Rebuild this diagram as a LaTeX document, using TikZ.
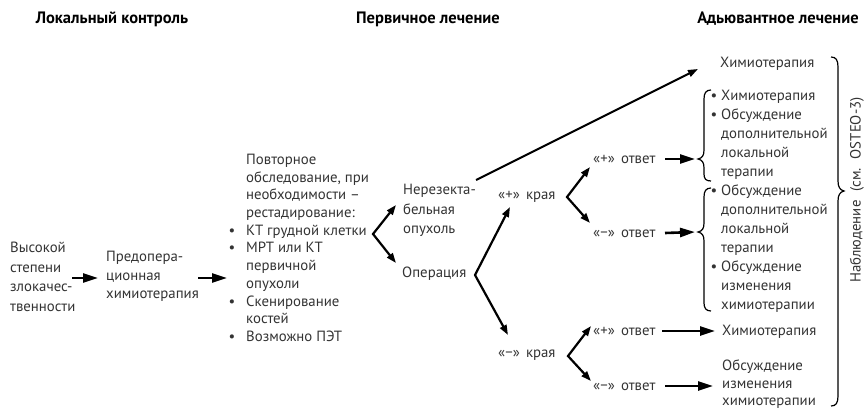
\documentclass[tikz,border=0pt]{standalone}
\usepackage{fontspec}
\setmainfont{PT Sans}
\usetikzlibrary{arrows.meta}
\newcommand\mybul{\llap{•\hspace{11pt}}}
\newcommand\mybulr{\llap{•\hspace{4pt}}}
\newcommand\gap{\hspace{0.42em}}
\begin{document}
\begin{tikzpicture}[x=1pt,y=-1pt,
  hdr/.style={inner sep=0pt, font=\fontsize{16.5}{19}\selectfont\bfseries, text=black},
  txt/.style={inner sep=0pt, text=black!80, align=left},
  lbl/.style={inner sep=0pt, text=black!80, anchor=base west, font=\fontsize{14.8}{18}\selectfont},
  harrow/.style={line width=2.6pt, -{Triangle[length=15pt,width=9pt]}},
  farrow/.style={line width=2.2pt, line join=miter, {Triangle[length=10pt,width=7pt]}-{Triangle[length=10pt,width=7pt]}},
  sarrow/.style={line width=2.2pt, -{Triangle[length=10pt,width=7pt]}},
  brace/.style={line width=1.2pt}
]
\useasboundingbox (0,0) rectangle (867,408);
% headers
\node[hdr] (h1) at (112,19) {Локальный контроль};
\node[hdr] (h2) at (428,19) {Первичное лечение};
\node[hdr] (h3) at (778,19) {Адьювантное лечение};
% left column
\node[txt, anchor=north west, font=\fontsize{14.8}{19.5}\selectfont] (hg) at (10,238.7)
  {\strut Высокой\\степени\\злокачес-\\твенности};
\node[txt, anchor=north west, font=\fontsize{14.8}{18.7}\selectfont] (pc) at (106,248.2)
  {\strut Предопера-\\ционная\\химиотерапия};
\node[txt, anchor=north west, font=\fontsize{14.8}{17.7}\selectfont] (rs) at (246,151.9)
  {\strut Повторное\\обследование, при\\необходимости –\\рестадирование:\\\mybul КТ грудной клетки\\\mybul МРТ или КТ\\первичной\\опухоли\\\mybul Скенирование\\костей\\\mybul Возможно ПЭТ};
% primary
\node[txt, anchor=north west, font=\fontsize{14.8}{19.5}\selectfont] (nr) at (403,180.7)
  {\strut Нерезекта-\\бельная\\опухоль};
\node[lbl] (op) at (402,277.2) {Операция};
\node[lbl] (mp) at (498,199.2) {«+»\gap края};
\node[lbl] (mm) at (498,357.2) {«−»\gap края};
\node[lbl] (o1) at (593,163.2) {«+»\gap ответ};
\node[lbl] (o2) at (593,237.2) {«−»\gap ответ};
\node[lbl] (o3) at (593,335.2) {«+»\gap ответ};
\node[lbl] (o4) at (593,390.2) {«−»\gap ответ};
% adjuvant
\node[lbl] (c0) at (720,67.2) {Химиотерапия};
\node[txt, anchor=north west, font=\fontsize{14.8}{19}\selectfont] (l1) at (721,87)
  {\strut\mybulr Химиотерапия\\\mybulr Обсуждение\\дополнительной\\локальной\\терапии};
\node[txt, anchor=north west, font=\fontsize{14.8}{19}\selectfont] (l2) at (721,182)
  {\strut\mybulr Обсуждение\\дополнительной\\локальной\\терапии\\\mybulr Обсуждение\\изменения\\химиотерапии};
\node[lbl] (c3) at (722,335.2) {Химиотерапия};
\node[txt, anchor=north west, font=\fontsize{14.8}{17.5}\selectfont] (c4) at (722,358.2)
  {\strut Обсуждение\\изменения\\химиотерапии};
\node[inner sep=0pt, text=black!80, rotate=90, font=\fontsize{14.8}{18}\selectfont] (obs) at (857,190)
  {Наблюдение\hspace{0.6em}(см.\hspace{0.6em}OSTEO-3)};
% connector end points
\coordinate (a1s) at (72,278);  \coordinate (a1e) at (98,278);
\coordinate (a2s) at (198,278); \coordinate (a2e) at (227,278);
\coordinate (f1u) at (396,205); \coordinate (f1v) at (373,234); \coordinate (f1d) at (396,263);
\coordinate (f3u) at (510,207); \coordinate (f3v) at (475,275); \coordinate (f3d) at (508,335);
\coordinate (f2u) at (590,167); \coordinate (f2v) at (567,197); \coordinate (f2d) at (590,223);
\coordinate (f4u) at (591,326); \coordinate (f4v) at (568,356); \coordinate (f4d) at (591,381);
\coordinate (lgs) at (476,180); \coordinate (lge) at (698,69);
\coordinate (b1t) at (698,159); \coordinate (b2t) at (698,232);
\coordinate (o1e) at (665,159); \coordinate (o2e) at (665,233);
\coordinate (o3e) at (662,331); \coordinate (o3t) at (715,331);
\coordinate (o4e) at (665,386); \coordinate (o4t) at (713,386);
% connectors
\draw[harrow] (a1s) -- (a1e);
\draw[harrow] (a2s) -- (a2e);
\draw[farrow] (f1u) -- (f1v) -- (f1d);
\draw[farrow] (f3u) -- (f3v) -- (f3d);
\draw[farrow] (f2u) -- (f2v) -- (f2d);
\draw[farrow] (f4u) -- (f4v) -- (f4d);
\draw[sarrow, line width=2pt] (lgs) -- (lge);
\draw[harrow] (o1e) -- ([xshift=-3pt]b1t);
\draw[harrow] (o2e) -- ([xshift=-3pt]b2t);
\draw[harrow] (o3e) -- (o3t);
\draw[harrow] (o4e) -- (o4t);
% braces
\draw[brace] (711,90) .. controls (706,90) and (704,93) .. (704,99) -- (704,150)
  .. controls (704,156) and (702,158) .. (698,159) .. controls (702,160) and (704,162) .. (704,168)
  -- (704,174) .. controls (704,179) and (706,181) .. (711,181);
\draw[brace] (711,188) .. controls (706,188) and (704,191) .. (704,197) -- (704,223)
  .. controls (704,229) and (702,231) .. (698,232) .. controls (702,233) and (704,235) .. (704,241)
  -- (704,303) .. controls (704,308) and (706,311) .. (711,311);
\draw[brace] (831,57) .. controls (836,57) and (838,60) .. (838,67) -- (838,181)
  .. controls (838,187) and (840,190) .. (844,191) .. controls (840,192) and (838,195) .. (838,201)
  -- (838,396) .. controls (838,403) and (836,406) .. (831,406);
\end{tikzpicture}
\end{document}
